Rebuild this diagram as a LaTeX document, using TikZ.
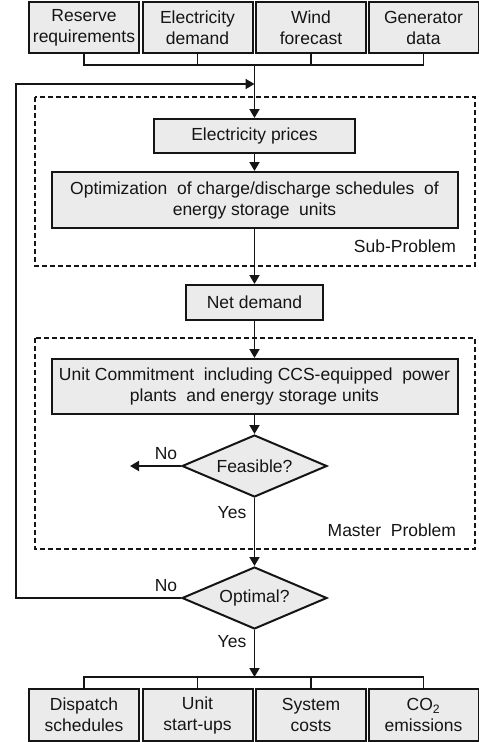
\documentclass[tikz,border=0pt]{standalone}
\usepackage{fontspec}
\setmainfont{Liberation Sans}
\usetikzlibrary{arrows.meta,shapes.geometric}
\definecolor{boxgray}{HTML}{EBEBEB}
\definecolor{ink}{HTML}{151515}
\newcommand\myfs{\fontsize{17.5}{21}\selectfont}
\begin{document}
\begin{tikzpicture}[x=1pt,y=-1pt,color=ink,line width=1.9pt,
  box/.style={draw=ink,line width=2pt,fill=boxgray,align=center,inner sep=0pt,font=\myfs,text=ink},
  dec/.style={diamond,draw=ink,line width=2pt,fill=boxgray,inner sep=0pt,aspect=2.34,minimum width=145pt,minimum height=62pt,font=\myfs,text=ink},
  lbl/.style={font=\myfs,text=ink,inner sep=0pt},
  arr/.style={-{Triangle[width=10pt,length=9pt]}},
  region/.style={draw=ink,line width=1.5pt,dash pattern=on 5pt off 3pt}
]
\useasboundingbox (0,0) rectangle (479,742);

% dashed regions
\draw[region] (35,97) rectangle (475,266);
\draw[region] (35,338) rectangle (475,549);

% inputs
\node[box,minimum width=110pt,minimum height=51pt] (in1) at (84,27.5) {Reserve\\requirements};
\node[box,minimum width=110pt,minimum height=51pt] (in2) at (197.5,27.5) {Electricity\\demand};
\node[box,minimum width=110pt,minimum height=51pt] (in3) at (311,27.5) {Wind\\forecast};
\node[box,minimum width=110pt,minimum height=51pt] (in4) at (423.5,27.5) {Generator\\data};

% main flow
\node[box,minimum width=201pt,minimum height=34pt] (prices) at (254.5,136) {Electricity prices};
\node[box,minimum width=406pt,minimum height=56pt] (opt) at (254.5,200) {Optimization\ \ of charge/discharge schedules\ \ of\\energy storage\ \ units};
\node[box,minimum width=137pt,minimum height=35pt] (net) at (254.5,302.5) {Net demand};
\node[box,minimum width=406pt,minimum height=55pt] (uc) at (254.5,386.5) {Unit Commitment\ \ including CCS-equipped\ \ power\\plants\ \ and energy storage units};
\node[dec] (feas) at (254.5,466) {Feasible?};
\node[dec] (optm) at (254.5,598) {Optimal?};

% outputs
\node[box,minimum width=110pt,minimum height=52pt] (out1) at (84,715) {Dispatch\\schedules};
\node[box,minimum width=110pt,minimum height=52pt] (out2) at (197.5,715) {Unit\\start-ups};
\node[box,minimum width=110pt,minimum height=52pt] (out3) at (311,715) {System\\costs};
\node[box,minimum width=110pt,minimum height=52pt] (out4) at (423.5,715) {CO\textsubscript{2}\\emissions};

% labels
\node[lbl,anchor=east] (subl) at (457,246) {Sub-Problem};
\node[lbl,anchor=east] (mastl) at (457,530) {Master\ \ Problem};
\node[lbl] (no1) at (166,454) {No};
\node[lbl] (yes1) at (232,513) {Yes};
\node[lbl] (no2) at (166,586) {No};
\node[lbl] (yes2) at (232,642) {Yes};

% coordinates
\coordinate (topbus) at (254.5,65);
\coordinate (fb) at (16,84);
\coordinate (noend) at (130,466);
\coordinate (botbus) at (254.5,677);

% input bus
\draw (in1.south) -- (in1.south |- topbus) -- (in4.south |- topbus) -- (in4.south);
\draw (in2.south) -- (in2.south |- topbus);
\draw (in3.south) -- (in3.south |- topbus);
\draw[arr] (topbus) -- (prices.north);

% flow arrows
\draw[arr] (prices.south) -- (opt.north);
\draw[arr] (opt.south) -- (net.north);
\draw[arr] (net.south) -- (uc.north);
\draw[arr] (uc.south) -- (feas.north);
\draw[arr] (feas.south) -- (optm.north);
\draw[arr] (feas.west) -- (noend);

% feedback loop
\draw[arr] (optm.west) -| (fb) -- (fb -| topbus);

% output bus
\draw[arr] (optm.south) -- (botbus);
\draw (out1.north) -- (out1.north |- botbus) -- (out4.north |- botbus) -- (out4.north);
\draw (out2.north) -- (out2.north |- botbus);
\draw (out3.north) -- (out3.north |- botbus);
\end{tikzpicture}
\end{document}
